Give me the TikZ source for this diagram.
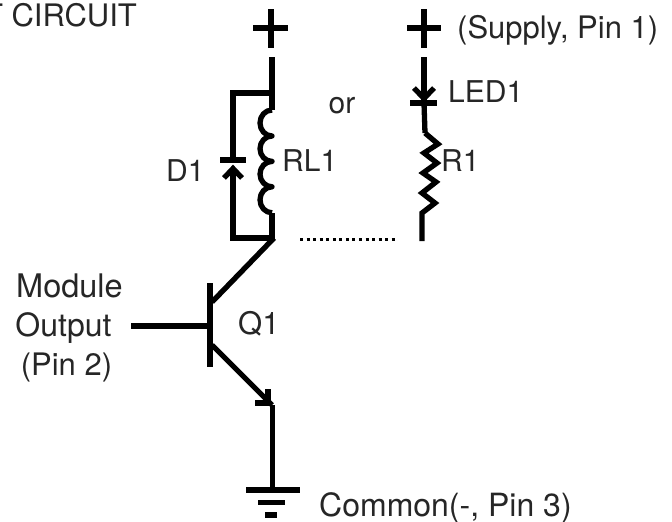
\documentclass[tikz,border=0pt]{standalone}
\usepackage{fontspec}
\setmainfont{TeX Gyre Heros}
\tikzset{
  wire/.style={line width=5.3pt,line cap=butt,line join=miter,black},
  lbl/.style={inner sep=0pt,font=\fontsize{#1}{34}\selectfont,text=black!85},
  lbl/.default=30,
}
\begin{document}
\begin{tikzpicture}[x=1pt,y=-1pt]
\useasboundingbox (0,0) rectangle (672,522);
\clip (0,0) rectangle (672,522);
% named points
\coordinate (topL) at (272,57);
\coordinate (coilT) at (272,110);
\coordinate (coilB) at (272,213);
\coordinate (jn) at (272,238);
\coordinate (d1T) at (233,93);
\coordinate (d1B) at (233,238);
\coordinate (topR) at (424,57);
\coordinate (ledB) at (424,103);
\coordinate (rT) at (425,133);
\coordinate (rB) at (422,213);
\coordinate (botR) at (422,241);
\coordinate (qc) at (212,302);
\coordinate (qe) at (212,345);
\coordinate (qb) at (210,326);
\coordinate (em) at (272,405);
\coordinate (gnd) at (272,490);
% plus signs
\draw[wire] (271,9) -- (271,48) (253,28) -- (288,28);
\draw[wire] (424,9) -- (424,48) (407,28) -- (441,28);
% relay branch
\draw[wire] (topL) -- (coilT);
\draw[wire] (274.5,93) -- (d1T) -- (233,160);
\draw[wire] (220,160) -- (246,160);
\draw[wire,line join=round] (coilT) arc[start angle=-90,end angle=-270,x radius=12,y radius=13]
  arc[start angle=-90,end angle=-270,x radius=12,y radius=12.7]
  arc[start angle=-90,end angle=-270,x radius=12,y radius=12.7]
  arc[start angle=-90,end angle=-270,x radius=12,y radius=13];
\draw[wire] (coilB) -- (272,240);
\draw[wire] (233,168) -- (d1B) -- (274.5,238);
\draw[wire] (224,178) -- (233,168.5) -- (242,178);
% LED branch
\draw[wire] (topR) -- (ledB);
\draw[wire] (414,88) -- (424,98.5) -- (434,88);
\draw[wire] (410,103) -- (437,103);
\draw[wire] (ledB) -- (rT);
\draw[wire] (rT) -- (438,144) -- (424,153) -- (437,163) -- (423,173) -- (436,182) -- (422,193) -- (435,203) -- (rB) -- (botR);
\draw[line width=3pt,dash pattern=on 3pt off 3.55pt] (300,239) -- (398,239);
% transistor
\draw[wire] (274,238) -- (qc);
\draw[wire] (210,283) -- (210,367);
\draw[wire] (131,326) -- (qb);
\draw[wire] (qe) -- (em);
\draw[wire] (255,403) -- (270,403) (268,389) -- (268,405);
\draw[wire] (272.7,405) -- (272.7,490);
% ground
\draw[wire] (246,490) -- (300,490);
\draw[wire] (258,502.5) -- (285,502.5);
\draw[wire] (265,515) -- (277,515);
% labels
\node[lbl=31,anchor=base east] (t0) at (137,27) {T CIRCUIT};
\node[lbl=31,anchor=base west] (t1) at (457,38) {(Supply, Pin 1)};
\node[lbl,anchor=base west] (t2) at (448,102) {LED1};
\node[lbl,anchor=base] (t3) at (342,113) {or};
\node[lbl,anchor=base west] (t4) at (282,171) {RL1};
\node[lbl,anchor=base west] (t5) at (441,171) {R1};
\node[lbl,anchor=base west] (t6) at (166,181) {D1};
\node[lbl=32.5,anchor=base] (t7) at (69.5,297) {Module};
\node[lbl=32,anchor=base] (t8) at (63.5,336) {Output};
\node[lbl=31,anchor=base] (t9) at (66.5,375) {(Pin 2)};
\node[lbl=31,anchor=base west] (t10) at (238,334) {Q1};
\node[lbl=32,anchor=base west] (t11) at (319,516) {Common(-, Pin 3)};
\end{tikzpicture}
\end{document}
